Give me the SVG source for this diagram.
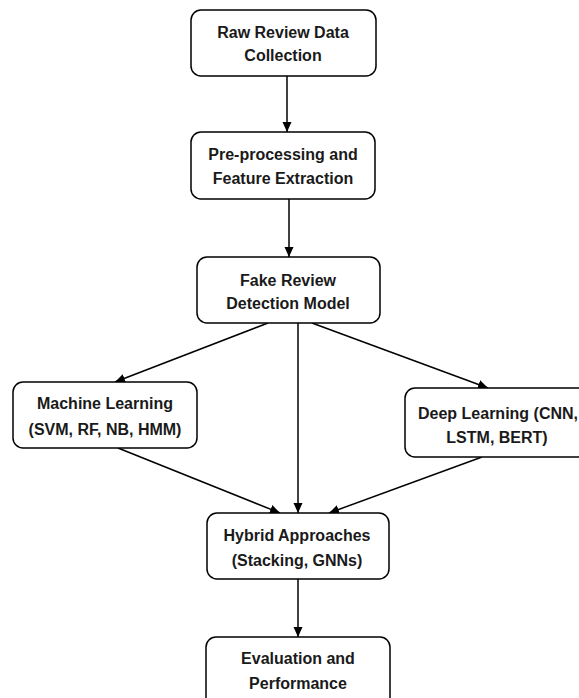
<svg xmlns="http://www.w3.org/2000/svg" width="579" height="698" viewBox="0 0 579 698">
<style>
.box{fill:#fff;stroke:#000;stroke-width:1.5}
.t{font-family:"Liberation Sans",Arial,sans-serif;font-weight:bold;font-size:16px;fill:#1a1a1a;text-anchor:middle}
.c{stroke:#000;stroke-width:1.5;fill:none;marker-end:url(#ah)}
</style>
<defs>
<marker id="ah" viewBox="0 0 10 10" refX="10" refY="5" markerWidth="10" markerHeight="10" markerUnits="userSpaceOnUse" orient="auto">
<path d="M0,0.5 L10,5 L0,9.5 Z" fill="#000"/>
</marker>
</defs>
<rect width="579" height="698" fill="#fff"/>
<g id="connectors">
<line class="c" x1="287" y1="76" x2="287" y2="132"/>
<line class="c" x1="289" y1="199" x2="289" y2="257"/>
<line class="c" x1="268" y1="323" x2="115" y2="382"/>
<line class="c" x1="298" y1="323" x2="298" y2="513"/>
<line class="c" x1="312" y1="323" x2="488" y2="388"/>
<line class="c" x1="118" y1="448" x2="280" y2="513"/>
<line class="c" x1="482" y1="457" x2="329" y2="513"/>
<line class="c" x1="298" y1="579" x2="298" y2="637"/>
</g>
<g id="n1">
<rect class="box" x="191" y="10" width="185" height="66" rx="10"/>
<text class="t" x="283" y="38">Raw Review Data</text>
<text class="t" x="283" y="61">Collection</text>
</g>
<g id="n2">
<rect class="box" x="191" y="132" width="184" height="67" rx="10"/>
<text class="t" x="283" y="160">Pre-processing and</text>
<text class="t" x="283" y="184">Feature Extraction</text>
</g>
<g id="n3">
<rect class="box" x="197" y="257" width="183" height="66" rx="10"/>
<text class="t" x="288" y="286">Fake Review</text>
<text class="t" x="288" y="309">Detection Model</text>
</g>
<g id="n4">
<rect class="box" x="13" y="382" width="184" height="66" rx="10"/>
<text class="t" x="105" y="409">Machine Learning</text>
<text class="t" x="105" y="435">(SVM, RF, NB, HMM)</text>
</g>
<g id="n5">
<rect class="box" x="405" y="388" width="190" height="69" rx="10"/>
<text class="t" x="498" y="419">Deep Learning (CNN,</text>
<text class="t" x="497" y="443">LSTM, BERT)</text>
</g>
<g id="n6">
<rect class="box" x="207" y="513" width="182" height="66" rx="10"/>
<text class="t" x="297" y="541">Hybrid Approaches</text>
<text class="t" x="297" y="566">(Stacking, GNNs)</text>
</g>
<g id="n7">
<rect class="box" x="206" y="637" width="184" height="70" rx="10"/>
<text class="t" x="298" y="664">Evaluation and</text>
<text class="t" x="298" y="689">Performance</text>
</g>
</svg>
